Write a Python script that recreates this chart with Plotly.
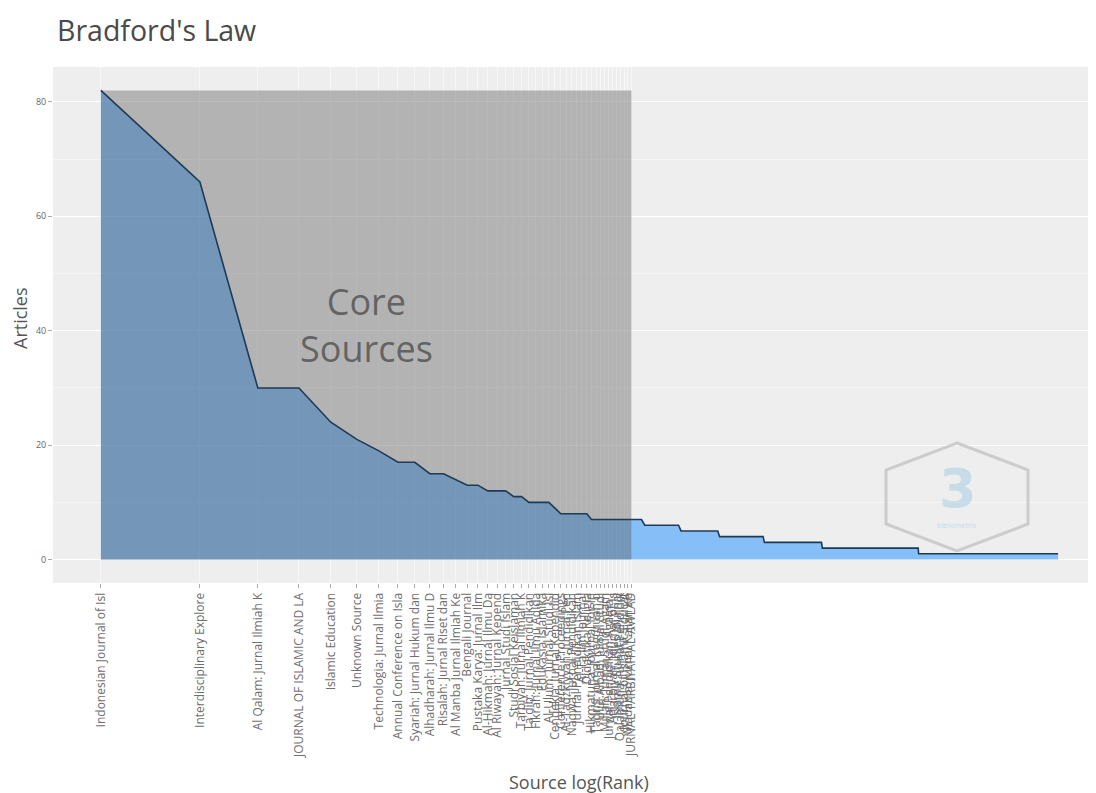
import math
import plotly.graph_objects as go

# ---------------- data ----------------
core_sources = [
    "Indonesian Journal of Isl", "Interdisciplinary Explore", "Al Qalam: Jurnal Ilmiah K",
    "JOURNAL OF ISLAMIC AND LA", "Islamic Education", "Unknown Source",
    "Technologia: Jurnal Ilmia", "Annual Conference on Isla", "Syariah: Jurnal Hukum dan",
    "Alhadharah: Jurnal Ilmu D", "Risalah: Jurnal Riset dan", "Al Manba Jurnal Ilmiah Ke",
    "Bengali Journal", "Pustaka Karya: Jurnal Ilm", "Al-Hikmah: Jurnal Ilmu Da",
    "Al Riwayah: Jurnal Kepend", "Jurnal Studi Islam", "Studi Sosial Keislaman",
    "Tarbiyah: Jurnal Ilmiah K", "Ta'dib: Jurnal Pendidikan", "Fikrah: Jurnal Ilmu Aqida",
    "Edukasia Islamika", "Al-Ulum: Jurnal Studi Isl", "Cendekia: Jurnal Kependid",
    "Conference Proceedings", "Al-Tadzkiyyah: Jurnal Pen", "Nadwa: Jurnal Pendidikan",
    "Jurnal Pendidikan Islam", "Al-Ta'lim Journal", "Didaktika Religia",
    "Hikmatuna: Journal for In", "Tadris: Jurnal Keguruan d", "Ulul Albab: Jurnal Studi",
    "Millah: Jurnal Studi Agam", "Jurnal Pendidikan Agama I", "Attarbiyah: Journal of Is",
    "Islamic Studies Journal", "Qalamuna: Jurnal Pendidik", "Journal of Islamic Educat",
    "Madania: Jurnal Kajian Ke", "JURNAL TARBIYAH AL-AWLAD",
]
core_articles = [82, 66, 30, 30, 24, 21, 19, 17, 17, 15, 15, 14, 13, 13, 12, 12, 12, 11, 11, 10,
                 10, 10, 10, 9, 8, 8, 8, 8, 8, 8, 7, 7, 7, 7, 7, 7, 7, 7, 7, 7, 7]
# remaining (non-core) sources: articles per source and how many sources have that count
tail_articles = [7, 6, 5, 4, 3, 2, 1]
tail_source_counts = [3, 13, 18, 28, 52, 150, 507]

# ---------------- build series ----------------
articles = list(core_articles)
for a, c in zip(tail_articles, tail_source_counts):
    articles += [a] * c
ranks = list(range(1, len(articles) + 1))
log_rank = [math.log(r) for r in ranks]
n_core = len(core_articles)
core_end = log_rank[n_core - 1]
y_max = max(articles)

BG = "#EEEEEE"
FONT = "Open Sans"
fig = go.Figure()

# area
fig.add_trace(go.Scatter(
    x=log_rank, y=articles, mode="lines", line=dict(width=0, color="rgba(0,0,0,0)"),
    fill="tozeroy", fillcolor="rgba(30,144,255,0.5)", hoverinfo="skip", showlegend=False))
# core rectangle
fig.add_trace(go.Scatter(
    x=[0, 0, core_end, core_end, 0], y=[0, y_max, y_max, 0, 0], mode="lines",
    line=dict(width=0, color="rgba(0,0,0,0)"), fill="toself",
    fillcolor="rgba(89,89,89,0.4)", hoverinfo="skip", showlegend=False))
# outline
fig.add_trace(go.Scatter(
    x=log_rank, y=articles, mode="lines", line=dict(width=1.6, color="#1f3a56"),
    showlegend=False))

# page has an 8px body margin: figure is 1088x785 drawn at (8,8)
W, H = 1088, 785
L, T, PW, PH = 45, 59, 1043, 516
fig.update_layout(
    width=W, height=H,
    margin=dict(l=L, r=W - L - PW, t=T, b=H - T - PH, autoexpand=False),
    paper_bgcolor="white", plot_bgcolor=BG,
    font=dict(family=FONT, color="#444444"),
    title=dict(text="Bradford's Law", x=(57 - 8) / W, xref="container", xanchor="left",
               y=1 - (31 - 8) / H, yref="container", yanchor="middle",
               font=dict(size=28.5, color="#4a4a4a", family=FONT)),
    showlegend=False,
)
fig.update_xaxes(
    range=[-0.335, 6.965], tickmode="array", tickvals=log_rank[:n_core],
    ticktext=core_sources, tickangle=-90, tickfont=dict(size=12, color="#6e6e6e"),
    ticks="outside", ticklen=4, tickcolor="#aaaaaa", showgrid=True,
    gridcolor="rgba(255,255,255,0.55)", gridwidth=0.5, zeroline=False, showline=False,
    automargin=False,
)
fig.update_yaxes(
    range=[-4.1, 86.1], tickvals=[0, 20, 40, 60, 80], tickfont=dict(size=9, color="#666666"),
    ticks="outside", ticklen=4, tickcolor="#aaaaaa", showgrid=True, gridcolor="#FFFFFF",
    gridwidth=1.1, zeroline=False, showline=False, automargin=False,
    minor=dict(tickvals=[10, 30, 50, 70], showgrid=True, gridcolor="#F6F6F6", gridwidth=0.6),
)

# helpers: reference-page pixels -> paper coordinates
def px(x):
    return (x - 8 - L) / PW
def py(y):
    return (T + PH - (y - 8)) / PH

C = dict(xanchor="center", yanchor="middle", showarrow=False)
annotations = [
    dict(text="Core<br>Sources", x=core_end / 2, y=y_max / 2, xref="x", yref="y",
         font=dict(size=36, color="rgba(68,68,68,0.72)", family=FONT), **C),
    dict(text="Articles", x=px(20), y=py(318), xref="paper", yref="paper", textangle=-90,
         font=dict(size=18, color="#555555", family=FONT), **C),
    dict(text="Source log(Rank)", x=px(579), y=py(782), xref="paper", yref="paper",
         font=dict(size=18, color="#555555", family=FONT), **C),
    # logo
    dict(text="<b>3</b>", x=px(958), y=py(488), xref="paper", yref="paper",
         font=dict(size=54, color="rgba(140,190,225,0.40)", family="DejaVu Sans"), **C),
    dict(text="bibliometrix", x=px(957), y=py(525), xref="paper", yref="paper",
         font=dict(size=7, color="rgba(140,190,225,0.45)", family=FONT), **C),
]
fig.update_layout(annotations=annotations)

hexpts = [(957, 443), (1028, 470), (1028, 524), (957, 551), (886, 524), (886, 470)]
path = "M " + " L ".join(f"{px(a):.5f},{py(b):.5f}" for a, b in hexpts) + " Z"
fig.add_shape(type="path", path=path, xref="paper", yref="paper",
              line=dict(color="rgba(195,195,195,0.8)", width=3), layer="above")

fig.write_html("out.html")
